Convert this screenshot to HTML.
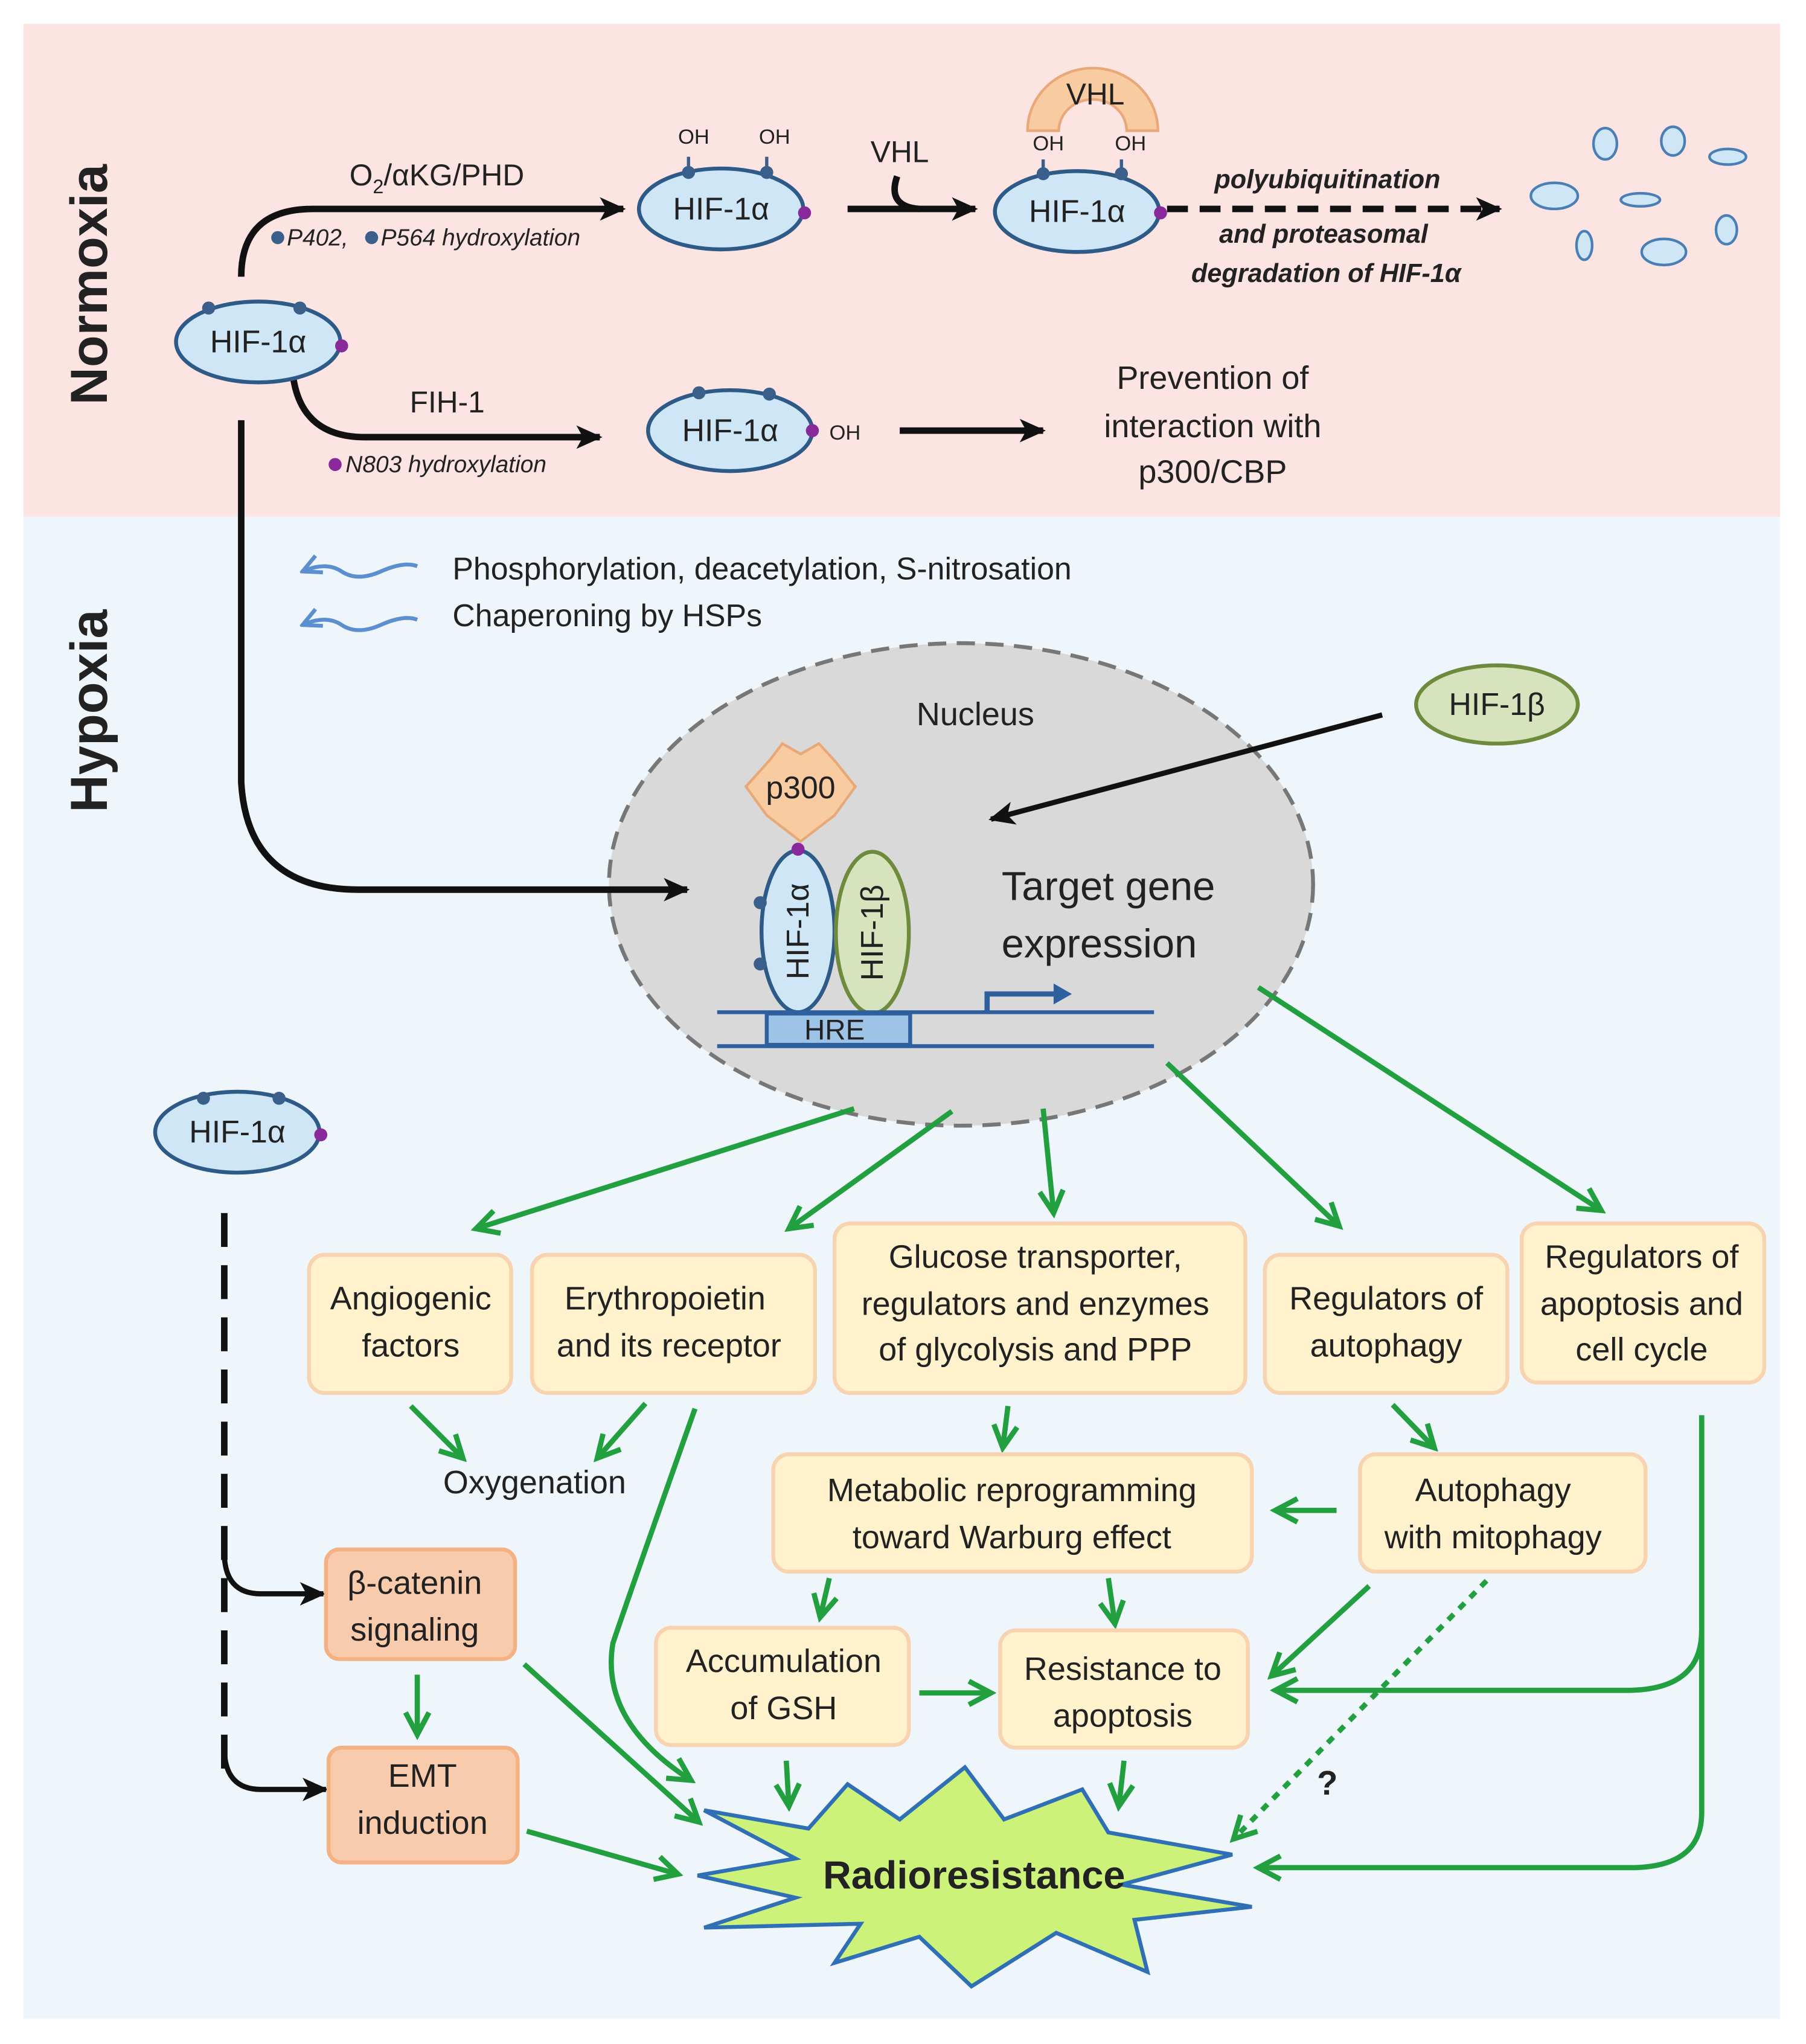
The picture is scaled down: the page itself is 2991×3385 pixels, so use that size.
<!DOCTYPE html>
<html><head><meta charset="utf-8"><style>
html,body{margin:0;padding:0;background:#fff}
svg{display:block}
text{font-family:"Liberation Sans","DejaVu Sans",sans-serif;fill:#222}
</style></head><body>
<svg width="2991" height="3385" viewBox="0 0 1385 1567" xmlns="http://www.w3.org/2000/svg">
<defs>
<marker id="akb" markerWidth="22" markerHeight="22" refX="18" refY="11" orient="auto" markerUnits="userSpaceOnUse" viewBox="0 0 22 22"><path d="M0,2 L20,11 L0,20 L5,11Z" fill="#111"/></marker>
<marker id="ag" markerWidth="24" markerHeight="24" refX="20" refY="12" orient="auto" markerUnits="userSpaceOnUse" viewBox="0 0 24 24"><path d="M3,3 L20,12 L3,21" fill="none" stroke="#22a040" stroke-width="4"/></marker>
<marker id="abl" markerWidth="20" markerHeight="20" refX="2" refY="10" orient="auto" markerUnits="userSpaceOnUse" viewBox="0 0 20 20"><path d="M16,3 L2,10 L16,17" fill="none" stroke="#5b8fd0" stroke-width="3"/></marker>
</defs>
<rect x="18" y="18" width="1347" height="378" fill="#fbe4e1"/>
<rect x="18" y="396" width="1347" height="1152" fill="#eef5fb"/>
<text transform="translate(82,218) rotate(-90)" font-size="40" font-weight="bold" text-anchor="middle" fill="#111">Normoxia</text>
<text transform="translate(82,545) rotate(-90)" font-size="40" font-weight="bold" text-anchor="middle" fill="#111">Hypoxia</text>

<!-- nucleus -->
<ellipse cx="737" cy="678" rx="270" ry="185" fill="#d9d9d9" stroke="#777" stroke-width="3" stroke-dasharray="14,8"/>

<g stroke="#111" stroke-width="5" fill="none">
<path d="M185,212 Q185,160 240,160 L478,160" marker-end="url(#akb)"/>
<path d="M650,160 L748,160" marker-end="url(#akb)"/>
<path d="M688,135 Q680,158 705,160"/>
<path d="M895,160 L1150,160" stroke-dasharray="16,9" marker-end="url(#akb)"/>
<path d="M225,290 Q232,335 280,335 L460,335" marker-end="url(#akb)"/>
<path d="M690,330 L800,330" marker-end="url(#akb)"/>
<path d="M185,322 L185,600 Q190,682 275,682 L527,682" marker-end="url(#akb)"/>
<path d="M1060,548 L760,628" marker-end="url(#akb)" stroke-width="4"/>
<path d="M172,930 L172,1360" stroke-dasharray="26,14"/>
<path d="M172,1190 Q172,1222 200,1222 L248,1222" marker-end="url(#akb)" stroke-width="4"/>
<path d="M172,1340 Q172,1372 200,1372 L250,1372" marker-end="url(#akb)" stroke-width="4"/>
</g>

<g font-size="23">
<text x="335" y="142" text-anchor="middle">O<tspan font-size="15" dy="6">2</tspan><tspan dy="-6">/αKG/PHD</tspan></text>
<text x="690" y="124" text-anchor="middle">VHL</text>
<text x="343" y="316" text-anchor="middle">FIH-1</text>
</g>
<g font-size="18" font-style="italic" fill="#333">
<circle cx="213" cy="182" r="5" fill="#3a5f8a"/><text x="220" y="188">P402,</text>
<circle cx="285" cy="182" r="5" fill="#3a5f8a"/><text x="292" y="188">P564 hydroxylation</text>
<circle cx="257" cy="356" r="5" fill="#8a2a9a"/><text x="265" y="362">N803 hydroxylation</text>
</g>
<g font-size="20" font-style="italic" font-weight="bold" text-anchor="middle">
<text x="1018" y="144">polyubiquitination</text>
<text x="1015" y="186">and proteasomal</text>
<text x="1017" y="216">degradation of HIF-1α</text>
</g>

<path d="M788,100 A50,48 0 0 1 888,100 L864,100 A26,24 0 0 0 812,100 Z" fill="#f8cba0" stroke="#e8a878" stroke-width="2"/>
<text x="840" y="80" font-size="23" text-anchor="middle">VHL</text>

<g stroke="#2e5a87" stroke-width="3" fill="#cfe6f7">
<ellipse cx="198" cy="262" rx="63" ry="31"/>
<ellipse cx="553" cy="160" rx="63" ry="31"/>
<ellipse cx="826" cy="162" rx="63" ry="31"/>
<ellipse cx="560" cy="330" rx="63" ry="31"/>
<ellipse cx="182" cy="868" rx="63" ry="31"/>
</g>
<g fill="#3a5f8a">
<circle cx="160" cy="236" r="5"/><circle cx="230" cy="236" r="5"/>
<circle cx="528" cy="132" r="5"/><circle cx="588" cy="132" r="5"/>
<circle cx="800" cy="133" r="5"/><circle cx="860" cy="133" r="5"/>
<circle cx="536" cy="301" r="5"/><circle cx="590" cy="302" r="5"/>
<circle cx="156" cy="842" r="5"/><circle cx="214" cy="842" r="5"/>
</g>
<g stroke="#3a5f8a" stroke-width="2.5"><line x1="528" y1="132" x2="528" y2="120"/><line x1="588" y1="132" x2="588" y2="120"/><line x1="800" y1="133" x2="800" y2="122"/><line x1="860" y1="133" x2="860" y2="122"/></g>
<g fill="#8a2a9a"><circle cx="262" cy="265" r="5"/><circle cx="617" cy="163" r="5"/><circle cx="890" cy="163" r="5"/><circle cx="623" cy="330" r="5"/><circle cx="246" cy="870" r="5"/></g>
<g font-size="24" text-anchor="middle">
<text x="198" y="270">HIF-1α</text><text x="553" y="168">HIF-1α</text><text x="826" y="170">HIF-1α</text><text x="560" y="338">HIF-1α</text><text x="182" y="876">HIF-1α</text>
</g>
<g font-size="16"><text x="520" y="110">OH</text><text x="582" y="110">OH</text><text x="792" y="115">OH</text><text x="855" y="115">OH</text><text x="636" y="337">OH</text></g>

<g fill="#cfe6f7" stroke="#4a7fb5" stroke-width="2">
<ellipse cx="1231" cy="110" rx="9" ry="12"/><ellipse cx="1283" cy="108" rx="9" ry="11"/><ellipse cx="1325" cy="120" rx="14" ry="6"/>
<ellipse cx="1192" cy="150" rx="18" ry="10"/><ellipse cx="1258" cy="153" rx="15" ry="5"/><ellipse cx="1324" cy="176" rx="8" ry="11"/>
<ellipse cx="1215" cy="188" rx="6" ry="11"/><ellipse cx="1276" cy="193" rx="17" ry="10"/>
</g>
<g font-size="25" text-anchor="middle"><text x="930" y="298">Prevention of</text><text x="930" y="335">interaction with</text><text x="930" y="370">p300/CBP</text></g>

<g stroke="#5b8fd0" stroke-width="3" fill="none">
<path d="M232,438 Q250,430 262,438 T292,438 T320,434" marker-start="url(#abl)"/>
<path d="M232,479 Q250,471 262,479 T292,479 T320,475" marker-start="url(#abl)"/>
</g>
<g font-size="24"><text x="347" y="444">Phosphorylation, deacetylation, S-nitrosation</text><text x="347" y="480">Chaperoning by HSPs</text></g>

<text x="748" y="556" font-size="25" text-anchor="middle">Nucleus</text>
<ellipse cx="1148" cy="540" rx="62" ry="30" fill="#d6e3bc" stroke="#6e8b3d" stroke-width="3"/>
<text x="1148" y="548" font-size="24" text-anchor="middle">HIF-1β</text>
<path d="M590,583 L600,570 L614,578 L628,570 L640,583 L656,603 L640,625 L614,645 L588,625 L572,603Z" fill="#f8cba0" stroke="#e8a878" stroke-width="2"/>
<text x="614" y="612" font-size="24" text-anchor="middle">p300</text>
<g stroke-width="3"><ellipse cx="612" cy="714" rx="28" ry="62" fill="#cfe6f7" stroke="#2e5a87"/><ellipse cx="669" cy="715" rx="28" ry="62" fill="#d6e3bc" stroke="#6e8b3d"/></g>
<circle cx="612" cy="651" r="5" fill="#8a2a9a"/><circle cx="583" cy="692" r="5" fill="#3a5f8a"/><circle cx="583" cy="739" r="5" fill="#3a5f8a"/>
<text transform="translate(620,714) rotate(-90)" font-size="24" text-anchor="middle">HIF-1α</text>
<text transform="translate(677,715) rotate(-90)" font-size="24" text-anchor="middle">HIF-1β</text>
<g stroke="#2e5f9e" stroke-width="3"><line x1="550" y1="776" x2="885" y2="776"/><line x1="550" y1="802" x2="885" y2="802"/></g>
<rect x="588" y="777" width="110" height="24" fill="#9dc3e6" stroke="#2e5f9e" stroke-width="3"/>
<text x="640" y="797" font-size="22" text-anchor="middle">HRE</text>
<path d="M757,776 L757,762 L810,762" fill="none" stroke="#2e5f9e" stroke-width="4"/><path d="M808,754 L822,762 L808,770Z" fill="#2e5f9e"/>
<g font-size="31" text-anchor="middle"><text x="850" y="690">Target gene</text><text x="843" y="734">expression</text></g>

<g stroke="#22a040" stroke-width="4" fill="none" marker-end="url(#ag)">
<path d="M655,850 L365,942"/>
<path d="M730,852 L605,942"/>
<path d="M800,850 L808,930"/>
<path d="M895,815 L1027,940"/>
<path d="M965,757 L1228,928"/>
<path d="M315,1078 L355,1118"/>
<path d="M495,1076 L458,1118"/>
<path d="M773,1078 L769,1110"/>
<path d="M1068,1077 L1100,1110"/>
<path d="M1025,1158 L978,1158"/>
<path d="M636,1210 L629,1240"/>
<path d="M850,1210 L855,1245"/>
<path d="M320,1284 L320,1330"/>
<path d="M1050,1216 L975,1285"/>
<path d="M705,1298 L760,1298"/>
<path d="M533,1080 Q480,1230 470,1260 Q460,1320 530,1365"/>
<path d="M402,1276 L536,1397"/>
<path d="M404,1404 L520,1437"/>
<path d="M603,1350 L605,1385"/>
<path d="M862,1350 L858,1385"/>
<path d="M1305,1085 L1305,1250 Q1305,1295 1250,1296 L978,1296"/>
<path d="M1305,1250 L1305,1390 Q1305,1432 1250,1432 L965,1432"/>
<path d="M1140,1212 L946,1410" stroke-dasharray="6,6"/>
</g>
<text x="1010" y="1376" font-size="26" font-weight="bold">?</text>

<g fill="#fff2cc" stroke="#f8d3b0" stroke-width="3">
<rect x="237" y="962" width="155" height="106" rx="12"/>
<rect x="408" y="962" width="217" height="106" rx="12"/>
<rect x="640" y="938" width="315" height="130" rx="12"/>
<rect x="970" y="962" width="186" height="106" rx="12"/>
<rect x="1167" y="938" width="186" height="122" rx="12"/>
<rect x="593" y="1115" width="367" height="90" rx="12"/>
<rect x="1043" y="1115" width="219" height="90" rx="12"/>
<rect x="503" y="1248" width="194" height="90" rx="12"/>
<rect x="767" y="1250" width="190" height="90" rx="12"/>
</g>
<g fill="#f8cbad" stroke="#f4b183" stroke-width="3">
<rect x="250" y="1188" width="145" height="84" rx="10"/>
<rect x="252" y="1340" width="145" height="88" rx="10"/>
</g>
<g font-size="25" text-anchor="middle">
<text x="315" y="1004">Angiogenic</text><text x="315" y="1040">factors</text>
<text x="510" y="1004">Erythropoietin</text><text x="513" y="1040">and its receptor</text>
<text x="794" y="972">Glucose transporter,</text><text x="794" y="1008">regulators and enzymes</text><text x="794" y="1043">of glycolysis and PPP</text>
<text x="1063" y="1004">Regulators of</text><text x="1063" y="1040">autophagy</text>
<text x="1259" y="972">Regulators of</text><text x="1259" y="1008">apoptosis and</text><text x="1259" y="1043">cell cycle</text>
<text x="410" y="1145">Oxygenation</text>
<text x="776" y="1151">Metabolic reprogramming</text><text x="776" y="1187">toward Warburg effect</text>
<text x="1145" y="1151">Autophagy</text><text x="1145" y="1187">with mitophagy</text>
<text x="318" y="1222">β-catenin</text><text x="318" y="1258">signaling</text>
<text x="324" y="1370">EMT</text><text x="324" y="1406">induction</text>
<text x="601" y="1282">Accumulation</text><text x="601" y="1318">of GSH</text>
<text x="861" y="1288">Resistance to</text><text x="861" y="1324">apoptosis</text>
</g>

<path d="M540,1388 L620,1402 L650,1368 L690,1395 L740,1355 L770,1395 L830,1372 L850,1405 L945,1422 L860,1445 L960,1462 L870,1472 L880,1512 L810,1482 L745,1523 L705,1485 L640,1505 L660,1475 L540,1478 L610,1455 L535,1438 L610,1425Z" fill="#ccf27a" stroke="#2e6fb6" stroke-width="3"/>
<text x="747" y="1448" font-size="30" font-weight="bold" text-anchor="middle" fill="#111">Radioresistance</text>
</svg>
</body></html>
